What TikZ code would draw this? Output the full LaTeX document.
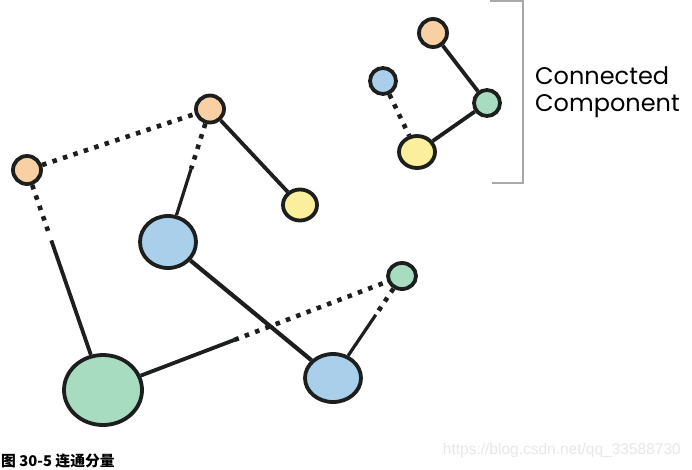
\documentclass[tikz,border=0pt]{standalone}
\usepackage{fontspec}
\setmainfont{Liberation Sans}
\newfontfamily\cjk{Noto Sans CJK SC}
\newfontfamily\hand{Poppins}
\usetikzlibrary{calc,shadows,shapes.geometric}
\definecolor{cOrange}{HTML}{F8D0A4}
\definecolor{cBlue}{HTML}{A9CFEA}
\definecolor{cGreen}{HTML}{A7DCC0}
\definecolor{cYellow}{HTML}{FBEF9E}
\definecolor{cInk}{HTML}{1C1F1D}
\definecolor{cBracket}{HTML}{A8A8A8}
\tikzset{
  vert/.style={ellipse, draw=cInk, line width=3.8pt, inner sep=0pt,
    drop shadow={shadow xshift=1.5pt, shadow yshift=-1.5pt, fill=black, opacity=0.18}},
  vx/.style 2 args={vert, minimum width=#1pt, minimum height=#2pt},
  solidedge/.style={draw=cInk, line width=3.8pt},
  dotedge/.style={draw=cInk, line width=4.6pt, dash pattern=on 4.5pt off 6.5pt},
}
\begin{document}
\begin{tikzpicture}[x=1pt, y=-1pt]
\useasboundingbox[fill=white] (0,0) rectangle (692,469);
% bracket
\draw[cBracket, line width=2.2pt] (490,1) -- (523,1) -- (523,183) -- (492,183);
\node[anchor=west, font=\hand\fontsize{24}{27}\selectfont, inner sep=0pt, align=left] (lab) at (535,92)
  {Connected\\Component};
% nodes
\node[vx={28}{28}, fill=cOrange] (ot) at (433,33) {};
\node[vx={26}{26}, fill=cBlue] (bs) at (383,81) {};
\node[vx={26}{26}, fill=cGreen] (gsm) at (487,103) {};
\node[vx={36}{32}, fill=cYellow] (yt) at (417,152) {};
\node[vx={28}{28}, fill=cOrange] (ol) at (27,170) {};
\node[vx={28}{27}, fill=cOrange] (om) at (210,109) {};
\node[vx={34}{31}, fill=cYellow] (ym) at (300,205) {};
\node[vx={56}{52}, fill=cBlue] (bl) at (168,242) {};
\node[vx={28}{26}, fill=cGreen] (gs) at (402,276) {};
\node[vx={78}{70}, fill=cGreen] (gl) at (103,390) {};
\node[vx={56}{48}, fill=cBlue] (bb) at (333,378) {};
% edges
\path[dotedge] (ol) -- (om);
\path[dotedge] (ol) -- ($(ol)!0.29!(gl)$) coordinate (c1);
\path[solidedge] ($(ol)!0.32!(gl)$) coordinate (c1b) -- (gl);
\path[solidedge] (om) -- (ym);
\path[dotedge] (om) -- ($(om)!0.45!(bl)$) coordinate (c2);
\path[solidedge, line width=3.2pt] (c2) -- (bl);
\path[solidedge, line width=4.2pt] (bl) -- (bb);
\path[solidedge] (gl) -- ($(gl)!0.44!(gs)$) coordinate (c3);
\path[dotedge] (c3) -- (gs);
\path[dotedge] (gs) -- ($(gs)!0.38!(bb)$) coordinate (c4);
\path[solidedge, line width=3.2pt] (c4) -- (bb);
\path[solidedge] (ot) -- (gsm);
\path[solidedge] (gsm) -- (yt);
\path[dotedge] (bs) -- (yt);
% caption and watermark
\node[anchor=west, font=\cjk\bfseries\fontsize{14.8}{14.8}\selectfont, inner sep=0pt] (cap) at (1,461) {图 30-5 连通分量};
\node[anchor=east, font=\fontsize{15.5}{15.5}\selectfont, text=black!9, inner sep=0pt] (wm) at (681,450) {https://blog.csdn.net/qq\_33588730};
\end{tikzpicture}
\end{document}
